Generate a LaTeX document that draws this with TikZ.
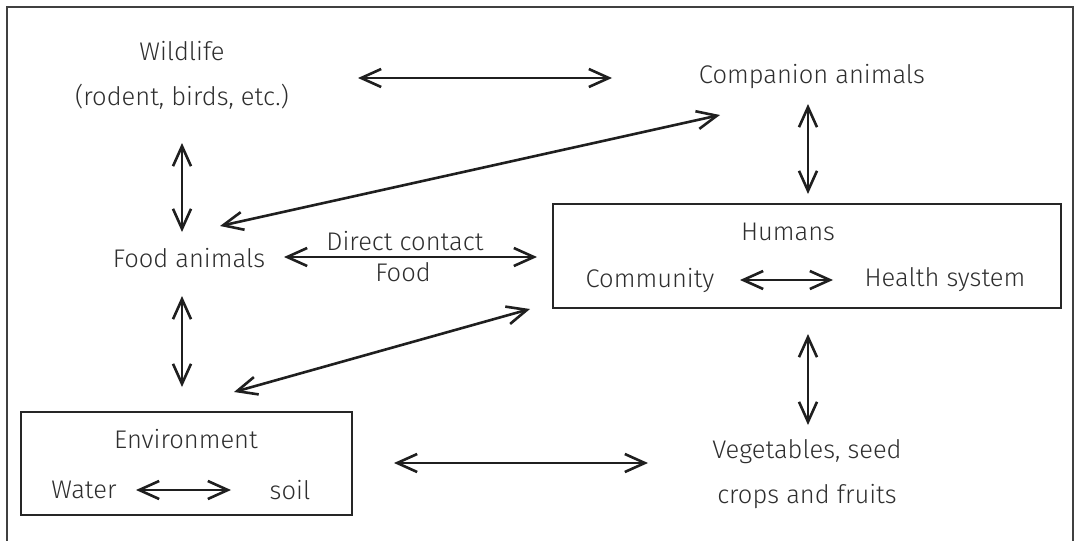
\documentclass[tikz,border=0pt]{standalone}
\usepackage{fontspec}
\setmainfont{Fira Sans}[UprightFont=* Light]
\usetikzlibrary{arrows.meta}
\begin{document}
\begin{tikzpicture}[x=1pt,y=-1pt,
  lbl/.style={font=\fontsize{25.5}{45}\selectfont, text=black!82, align=center, inner sep=0pt},
  box/.style={draw=black!85, line width=2.8pt, inner sep=0pt},
  link/.style={{Straight Barb[length=20pt,width=18pt]}-{Straight Barb[length=20pt,width=18pt]}, line width=2.6pt, draw=black!88}
]
\useasboundingbox (0,0) rectangle (1074,541);
\draw[line width=1.8pt, draw=black!75] (7,560) -- (7,7) -- (1073,7) -- (1073,560);

% boxes
\node[box, minimum width=508pt, minimum height=104pt] (hum) at (807,256) {};
\node[box, minimum width=331pt, minimum height=103pt] (env) at (186.5,463.5) {};

% labels
\node[lbl] (wild) at (182,75) {Wildlife\\(rodent, birds, etc.)};
\node[lbl] (comp) at (812,77) {Companion animals};
\node[lbl] (food) at (189,258) {Food animals};
\node[lbl] (humt) at (788,232) {Humans};
\node[lbl] (comm) at (650,280) {Community};
\node[lbl] (hs) at (945,280) {Health system};
\node[lbl] (envt) at (186,439) {Environment};
\node[lbl] (water) at (84,490) {Water};
\node[lbl] (soil) at (290,490) {soil};
\node[lbl] (veg) at (807,474) {Vegetables, seed\\crops and fruits};
\node[lbl] (dc) at (405,241) {Direct contact};
\node[lbl] (fd) at (403,272) {Food};

% connector end points
\coordinate (wc) at (358,78);   \coordinate (cw) at (612,78);
\coordinate (wf) at (182,143);  \coordinate (fw) at (182,232);
\coordinate (fc) at (220,226);  \coordinate (cf) at (720,115);
\coordinate (ch) at (808,104);  \coordinate (hc) at (808,194);
\coordinate (fh) at (284,257);  \coordinate (hf) at (537,257);
\coordinate (fe) at (182,296);  \coordinate (ef) at (182,387);
\coordinate (eh) at (234,392);  \coordinate (he) at (530,309);
\coordinate (hv) at (808,334);  \coordinate (vh) at (808,425);
\coordinate (ev) at (394,463);  \coordinate (ve) at (648,463);
\coordinate (cmh) at (740,280); \coordinate (hcm) at (833,280);
\coordinate (ws) at (136,490);  \coordinate (sw) at (231,490);

\draw[link] (wc) -- (cw);
\draw[link] (wf) -- (fw);
\draw[link] (fc) -- (cf);
\draw[link] (ch) -- (hc);
\draw[link] (fh) -- (hf);
\draw[link] (fe) -- (ef);
\draw[link] (eh) -- (he);
\draw[link] (hv) -- (vh);
\draw[link] (ev) -- (ve);
\draw[link] (cmh) -- (hcm);
\draw[link] (ws) -- (sw);
\end{tikzpicture}
\end{document}
